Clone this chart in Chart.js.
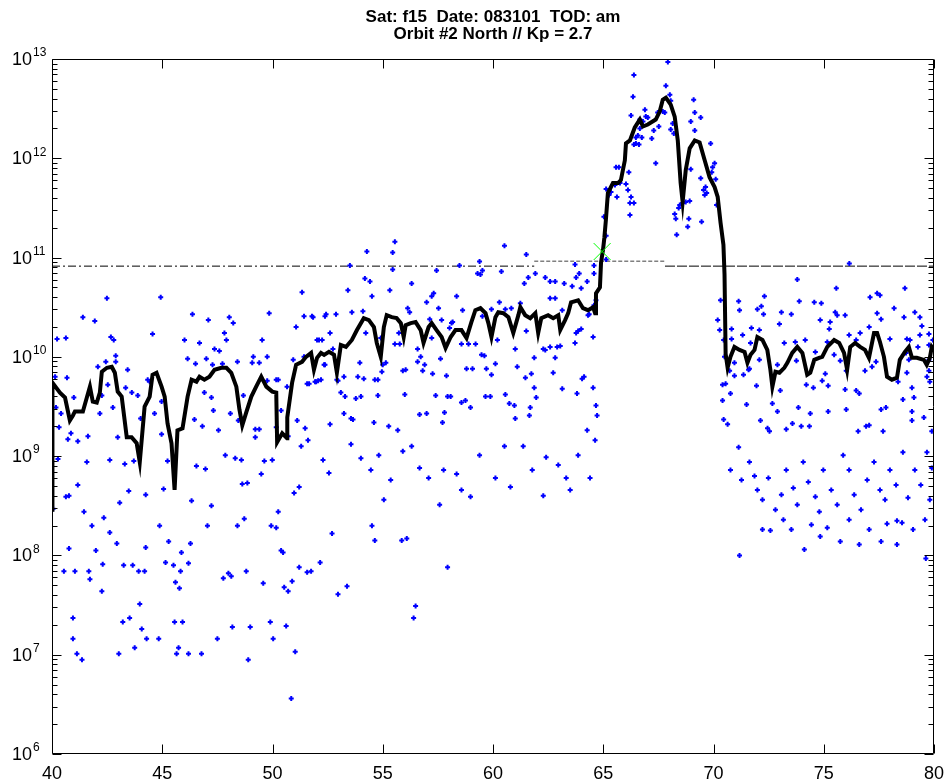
<!DOCTYPE html>
<html>
<head>
<meta charset="utf-8">
<script src="https://cdn.jsdelivr.net/npm/chart.js@4.4.0/dist/chart.umd.min.js"></script>
<style>
  html, body { margin: 0; padding: 0; background: #fff; }
  #wrap { width: 947px; height: 783px; }
</style>
</head>
<body>
<div id="wrap"><canvas id="myChart" width="947" height="783"></canvas></div>
<script>
// title and axes
const titleLines = ['Sat: f15  Date: 083101  TOD: am', 'Orbit #2 North // Kp = 2.7'];
const xTicks = [40, 45, 50, 55, 60, 65, 70, 75, 80];
const yDecades = [6, 7, 8, 9, 10, 11, 12, 13];

// smoothed flux (black line): latitude and log10(flux)
const lineLat = [40.00, 40.02, 40.36, 40.59, 40.81, 40.95, 41.04, 41.40, 41.58, 41.72, 41.85, 42.03, 42.17, 42.26, 42.49, 42.71, 42.85, 42.98, 43.16, 43.39, 43.61, 43.84, 43.98, 44.20, 44.43, 44.56, 44.74, 44.97, 45.11, 45.24, 45.42, 45.56, 45.69, 45.92, 46.15, 46.33, 46.55, 46.69, 46.91, 47.14, 47.37, 47.68, 47.91, 48.13, 48.36, 48.50, 48.63, 48.81, 49.04, 49.26, 49.49, 49.72, 49.99, 50.17, 50.21, 50.44, 50.66, 50.67, 50.89, 51.07, 51.34, 51.52, 51.75, 51.88, 52.02, 52.20, 52.34, 52.56, 52.79, 52.92,
  53.10, 53.33, 53.60, 53.83, 54.14, 54.37, 54.60, 54.73, 54.91, 55.05, 55.18, 55.41, 55.63, 55.82, 55.95, 56.04, 56.27, 56.49, 56.72, 56.85, 57.08, 57.22, 57.44, 57.67, 57.85, 58.08, 58.30, 58.57, 58.80, 59.02, 59.20, 59.43, 59.66, 59.79, 59.93, 60.11, 60.24, 60.47, 60.70, 60.92, 61.15, 61.24, 61.46, 61.69, 61.92, 62.05, 62.19, 62.50, 62.73, 62.96, 63.05, 63.27, 63.41, 63.54, 63.86, 64.08, 64.31, 64.54, 64.63, 64.67, 64.85, 64.90, 64.99, 65.05, 65.12,
  65.21, 65.44, 65.67, 65.80, 65.98, 66.03, 66.21, 66.43, 66.66, 66.80, 67.02, 67.38, 67.56, 67.70, 67.84, 68.06, 68.24, 68.38, 68.51, 68.60, 68.74, 68.92, 69.15, 69.37, 69.60, 69.82, 70.05, 70.19, 70.32, 70.45, 70.50, 70.55, 70.64,
  70.77, 70.95, 71.18, 71.41, 71.54, 71.68, 71.86, 71.99, 72.22, 72.44, 72.58, 72.67, 72.81, 72.99, 73.21, 73.35, 73.57, 73.80, 74.03, 74.25, 74.39, 74.57, 74.79, 74.93, 75.16, 75.47, 75.70, 75.92, 76.06, 76.20, 76.42, 76.65, 76.87, 77.05, 77.28, 77.42, 77.55, 77.73, 77.87, 78.09, 78.32, 78.45, 78.68, 78.86, 79.00, 79.22, 79.54, 79.67, 79.81, 79.90, 80.00];
const lineLog = [8.46, 9.74, 9.64, 9.59, 9.36, 9.41, 9.45, 9.45, 9.59, 9.70, 9.55, 9.54, 9.64, 9.85, 9.89, 9.90, 9.84, 9.65, 9.60, 9.19, 9.19, 9.13, 8.94, 9.50, 9.60, 9.82, 9.84, 9.70, 9.60, 9.33, 9.13, 8.66, 9.26, 9.28, 9.60, 9.77, 9.75, 9.80, 9.77, 9.80, 9.87, 9.89, 9.89, 9.84, 9.70, 9.47, 9.31, 9.44, 9.60, 9.70, 9.80, 9.70, 9.65, 9.64, 9.14, 9.23, 9.18, 9.39, 9.74, 9.92, 9.95, 10.00, 10.04, 9.87, 9.99, 10.04, 10.02, 10.05, 10.02, 9.84,
  10.12, 10.10, 10.17, 10.27, 10.39, 10.37, 10.30, 10.14, 10.00, 10.30, 10.42, 10.40, 10.39, 10.34, 10.20, 10.32, 10.34, 10.35, 10.27, 10.14, 10.30, 10.34, 10.27, 10.20, 10.09, 10.20, 10.27, 10.27, 10.19, 10.35, 10.47, 10.49, 10.44, 10.34, 10.20, 10.40, 10.45, 10.44, 10.40, 10.24, 10.42, 10.50, 10.42, 10.39, 10.44, 10.24, 10.39, 10.42, 10.39, 10.42, 10.27, 10.37, 10.44, 10.55, 10.57, 10.49, 10.47, 10.50, 10.44, 10.64, 10.70, 10.95, 11.08, 11.20, 11.38,
  11.65, 11.75, 11.75, 11.78, 11.98, 12.15, 12.18, 12.31, 12.39, 12.32, 12.34, 12.39, 12.47, 12.59, 12.61, 12.54, 12.42, 12.18, 11.75, 11.56, 11.88, 12.10, 12.18, 12.16, 11.98, 11.81, 11.71, 11.61, 11.35, 11.13, 10.83, 10.03, 9.89,
  10.00, 10.10, 10.07, 10.05, 9.94, 10.02, 10.07, 10.20, 10.17, 10.07, 9.87, 9.70, 9.85, 9.84, 9.89, 9.94, 10.04, 10.10, 10.04, 9.82, 9.84, 9.97, 9.99, 10.00, 10.10, 10.17, 10.14, 10.04, 9.87, 10.10, 10.14, 10.10, 10.07, 9.99, 10.24, 10.24, 10.15, 10.00, 9.80, 9.77, 9.79, 9.97, 10.05, 10.10, 9.99, 9.99, 9.97, 9.92, 9.99, 10.10, 10.07];

// individual samples (blue markers): [latitude, log10(flux)]
const dotsWest = [[40.23,10.18],[40.63,10.19],[41.40,10.40],[41.94,10.36],[42.49,10.59],[42.67,10.20],[42.80,10.17],[42.89,10.01],[44.56,10.23],[44.93,10.60],[46.01,10.17],[46.37,10.43],[46.69,10.14],[47.09,10.37],[47.37,10.08],[47.59,10.06],[47.82,10.24],[47.91,10.17],[48.04,10.40],[48.22,10.34],[49.85,10.44],[51.07,10.30],[51.34,10.65],[51.43,10.41],[51.79,10.41],[52.02,10.17],
  [40.14,9.80],[40.68,9.79],[40.18,9.49],[40.41,9.43],[40.32,9.29],[40.72,9.17],[40.86,9.23],[40.99,9.59],[41.17,9.15],[41.63,9.20],[41.17,8.71],[41.58,8.94],[40.27,8.97],[40.63,8.59],[40.77,8.60],[40.05,8.47],[41.45,8.44],[41.81,8.30],[42.08,9.90],[42.44,9.95],[42.89,9.95],[42.53,9.72],[42.26,9.61],[42.17,9.43],[42.76,9.49],[42.62,8.96],[42.98,9.19],[43.30,8.92],[43.43,9.87],[43.34,9.69],[43.62,9.64],[43.89,9.61],[43.48,8.65],[43.07,8.53],[42.35,8.38],[43.71,8.95],[44.02,9.38],[44.25,8.61],[44.34,9.77],[44.43,9.75],[44.65,9.43],[44.97,9.55],[44.97,9.22],[45.24,8.95],[45.06,8.67],[44.88,8.30],
  [46.15,9.98],[46.51,9.93],[47.00,9.98],[47.28,9.92],[47.73,9.93],[48.41,9.95],[49.08,9.94],[49.40,9.94],[49.13,10.00],[49.76,10.00],[49.53,10.17],[46.46,9.37],[46.82,9.30],[46.91,9.64],[47.23,9.59],[47.32,9.46],[47.55,9.26],[46.55,8.90],[46.96,8.87],[46.33,8.55],[47.23,8.50],[47.05,8.30],[47.86,9.01],[48.31,8.98],[48.59,8.96],[48.63,8.72],[48.86,8.73],[48.41,8.30],[48.72,8.37],[48.09,9.43],[48.45,9.36],[48.68,9.61],[49.22,9.27],[49.40,9.27],[49.22,9.19],[49.49,8.82],[49.63,8.95],[49.99,8.96],[49.76,9.76],[50.17,9.77],[50.26,9.77],[50.39,9.46],[50.66,9.70],[50.71,9.20],[50.17,9.29],[51.12,9.36],[51.48,9.28],[51.61,9.16],[51.30,9.10],[51.21,8.69],[50.98,8.63],[50.26,8.44],[49.94,8.30],[50.17,8.28],[50.94,9.97],[51.57,9.73],[51.98,9.75],[52.20,9.77],[52.34,9.92],[52.61,9.32],[52.29,8.96],[52.56,8.83],[52.25,10.17],[52.61,10.24],[52.74,10.08],[52.92,9.77]];

const dotsLow = [[42.62,8.23],[42.94,8.12],[41.99,8.05],[40.77,8.07],[42.30,7.91],[40.54,7.84],[41.04,7.84],[41.67,7.84],[41.72,7.76],[42.26,7.64],[43.25,7.90],[43.66,7.90],[43.93,7.84],[44.20,7.84],[44.25,8.08],[45.29,8.14],[45.15,7.93],[45.51,7.90],[45.87,8.03],[46.19,7.92],[46.28,8.12],[45.83,7.84],[45.60,7.73],[45.78,7.67],[50.39,8.05],[50.48,8.03],[48.81,7.84],[47.77,7.77],[48.00,7.82],[48.13,7.79],[49.58,7.72],[50.53,7.68],[50.71,7.64],[50.89,7.74],[51.21,7.88],[51.57,7.83],[51.75,7.84],[52.16,7.93],[52.70,8.22],[52.97,7.61],
  [43.98,7.51],[40.95,7.37],[43.21,7.33],[43.52,7.37],[44.07,7.26],[40.95,7.16],[44.29,7.16],[44.84,7.16],[45.56,7.33],[45.92,7.33],[41.13,7.01],[41.36,6.95],[43.03,7.01],[43.75,7.07],[45.65,7.01],[45.74,7.07],[46.19,7.01],[46.78,7.01],[47.50,7.16],[48.18,7.28],[48.99,7.28],[49.90,7.33],[50.03,7.16],[50.62,7.29],[51.03,7.03],[48.90,6.95],[50.85,6.56],[53.38,7.69],[54.51,8.30],[54.64,8.15],[55.86,8.15],[56.09,8.17],[56.40,7.37],[56.49,7.49],[57.94,7.88]];

const dotsMid = [[55.55,11.16],[54.28,11.06],[55.45,11.05],[60.52,11.12],[61.51,11.03],[59.39,10.96],[53.51,10.92],[55.45,10.88],[57.44,10.87],[58.48,10.92],[59.30,10.84],[59.43,10.83],[59.52,10.87],[60.38,10.86],[61.92,10.84],[61.60,10.80],[61.42,10.74],[62.37,10.80],[62.59,10.76],[62.82,10.76],[63.23,10.74],[63.72,10.93],[63.91,10.84],[63.77,10.80],[63.59,10.71],[64.00,10.69],[64.27,10.76],[64.58,10.92],[64.58,10.84],
  [53.42,10.67],[54.19,10.79],[54.42,10.76],[54.51,10.61],[55.32,10.67],[56.31,10.74],[56.99,10.55],[57.22,10.61],[57.31,10.64],[58.35,10.61],[57.53,10.49],[60.29,10.55],[61.24,10.54],[62.59,10.59],[62.82,10.59],[64.67,10.57],[51.84,10.40],[52.38,10.41],[52.43,10.43],[52.88,10.43],[53.60,10.45],[54.10,10.46],[56.13,10.49],[56.22,10.45],[57.13,10.38],[57.67,10.37],[58.12,10.34],[58.17,10.35],[58.03,10.29],[58.62,10.47],[59.52,10.41],[59.93,10.48],[60.56,10.48],[60.83,10.49],[63.14,10.47],[64.00,10.28],[63.86,10.26],[63.77,10.24],[64.36,10.43],
  [52.11,10.17],[54.23,10.24],[54.91,10.19],[55.55,10.13],[55.77,10.13],[55.73,10.24],[56.58,10.08],[56.72,10.00],[56.58,9.95],[56.90,9.92],[56.81,9.86],[55.91,9.86],[57.22,10.19],[57.26,9.83],[57.62,9.98],[57.89,9.81],[58.57,10.13],[58.89,10.13],[59.21,10.13],[59.48,10.02],[59.61,10.01],[58.80,9.88],[59.07,9.88],[59.70,9.88],[59.93,9.82],[60.11,9.93],[60.20,10.17],[61.01,10.08],[61.51,10.26],[61.87,9.99],[62.28,10.08],[62.37,10.07],[62.59,10.10],[62.82,9.99],[62.91,10.10],[63.05,10.11],[63.72,10.14],[64.13,9.80],[64.04,9.78],[64.54,10.20],
  [52.38,9.92],[51.43,10.00],[52.97,9.76],[53.24,9.80],[53.96,9.94],[53.87,9.80],[54.14,9.78],[54.78,9.77],[54.64,9.77],[55.14,9.94],[55.00,9.92],[54.96,9.85],[56.04,9.87],[61.10,9.90],[61.74,9.83],[61.47,9.79],[62.73,9.84],[61.87,9.69],[61.96,9.59],[63.14,9.68],[64.54,9.69],[63.81,9.63],[51.66,9.73],[51.93,9.75],[52.07,9.76],[53.10,9.64],[53.29,9.60],[53.78,9.58],[54.01,9.60],[54.78,9.61],[56.00,9.62],[57.40,9.61],[57.94,9.60],[58.08,9.60],[58.57,9.54],[58.75,9.56],[58.98,9.49],[59.66,9.60],[59.88,9.60],[60.56,9.62],[60.74,9.53],[60.97,9.51],[61.69,9.49],[61.65,9.41],[64.67,9.51],[64.72,9.41],
  [53.24,9.43],[53.56,9.38],[53.65,9.37],[54.60,9.34],[56.67,9.42],[56.99,9.43],[57.80,9.44],[57.71,9.34],[55.27,9.30],[55.68,9.26],[61.01,9.38],[64.27,9.26],
  [53.56,9.12],[54.01,8.98],[54.46,8.86],[54.82,9.01],[55.36,8.76],[55.91,9.05],[56.31,9.10],[56.67,8.88],[57.08,8.78],[57.76,8.86],[58.35,8.82],[58.57,8.66],[58.98,8.59],[59.39,9.01],[60.11,8.78],[60.52,9.10],[60.79,8.69],[61.37,9.10],[61.78,8.86],[62.28,8.60],[62.41,8.99],[62.96,8.91],[63.32,8.78],[63.50,8.66],[63.86,9.01],[64.40,8.78],[64.63,9.16],[55.05,8.56],[57.58,8.51]];

const dotsPeak = [[67.93,12.97],[66.39,12.84],[67.84,12.73],[66.35,12.62],[68.02,12.64],[68.06,12.58],[69.10,12.59],[66.89,12.49],[67.47,12.46],[67.70,12.47],[67.79,12.46],[69.15,12.46],[66.26,12.43],[66.93,12.42],[67.02,12.41],[66.66,12.39],[66.80,12.37],[69.42,12.41],[68.97,12.37],[68.15,12.35],[67.52,12.32],[67.29,12.28],[69.15,12.28],[66.66,12.30],[66.57,12.23],[66.48,12.21],[66.75,12.21],[67.20,12.20],[68.06,12.29],[68.20,12.25],[66.48,12.15],[66.62,12.14],[66.39,12.14],[69.87,12.15],
  [67.38,11.95],[65.58,11.91],[65.71,11.91],[66.16,11.86],[70.05,11.95],[69.96,11.91],[69.92,11.86],[68.97,11.89],[69.42,11.80],[70.10,11.79],[65.76,11.75],[66.03,11.74],[65.53,11.73],[65.13,11.69],[65.35,11.66],[65.26,11.63],[65.62,11.61],[66.12,11.68],[66.26,11.61],[69.55,11.68],[69.64,11.71],[69.69,11.65],[69.60,11.63],[66.21,11.55],[66.39,11.55],[70.14,11.53],[68.47,11.53],[68.60,11.55],[68.74,11.56],[68.92,11.57],[68.42,11.50],[68.24,11.44],[68.29,11.39],[68.88,11.39],[69.46,11.36],[66.21,11.43],[65.03,11.41],[68.83,11.31],[68.33,11.23],[65.13,11.22],[64.58,10.52],[64.31,10.42],[65.13,10.98]];

const dotsEast = [[76.16,10.94],[73.80,10.78],[75.57,10.69],[78.68,10.69],[70.32,10.57],[71.14,10.56],[71.18,10.47],[72.31,10.61],[73.89,10.56],[74.57,10.55],[74.89,10.54],[77.10,10.60],[77.42,10.64],[77.55,10.62],[78.19,10.49],[71.99,10.48],[72.17,10.51],[72.27,10.43],[73.08,10.45],[73.53,10.43],[75.52,10.45],[75.61,10.42],[75.97,10.42],[77.42,10.44],[77.60,10.38],[78.64,10.40],[79.13,10.45],[79.36,10.40],
  [70.19,10.37],[70.28,10.27],[70.82,10.28],[71.32,10.22],[71.72,10.29],[72.08,10.27],[72.99,10.33],[74.84,10.37],[75.29,10.35],[75.25,10.28],[77.06,10.30],[79.45,10.31],[70.46,10.17],[70.82,10.18],[71.68,10.14],[73.21,10.14],[73.71,10.15],[74.16,10.17],[75.16,10.15],[76.15,10.22],[76.47,10.17],[76.65,10.24],[78.00,10.18],[78.77,10.18],[78.91,10.17],[79.36,10.22],[79.77,10.23],[79.95,10.17],[79.77,10.12],[79.27,10.10],[74.62,10.05],[75.47,10.02],
  [70.50,10.00],[70.95,9.94],[72.08,9.97],[71.63,9.88],[72.90,9.92],[73.76,9.96],[75.75,9.96],[77.37,9.95],[77.19,9.90],[78.73,10.04],[78.86,9.97],[79.77,9.97],[79.77,9.86],[79.68,9.80],[70.95,9.81],[70.73,9.86],[71.36,9.82],[71.59,9.87],[75.07,9.83],[76.02,9.86],[76.87,9.86],[78.77,9.84],[74.21,9.72],[74.53,9.69],[74.93,9.76],[75.20,9.71],[75.97,9.67],[76.47,9.66],[76.61,9.63],[78.37,9.75],[79.00,9.69],[79.81,9.75],[70.41,9.72],[70.55,9.73],[70.77,9.63],[71.95,9.71],[73.03,9.66],
  [70.41,9.56],[71.50,9.52],[72.67,9.53],[72.90,9.45],[73.85,9.49],[74.39,9.43],[75.20,9.45],[76.02,9.47],[77.60,9.47],[77.82,9.49],[78.59,9.57],[79.09,9.59],[79.00,9.45],[79.00,9.36],[79.54,9.39],[79.90,9.25],[70.46,9.37],[70.64,9.32],[72.13,9.36],[72.45,9.28],[72.54,9.25],[73.30,9.27],[73.58,9.33],[73.98,9.30],[74.35,9.30],[76.56,9.25],[76.92,9.30],[77.06,9.31],[77.69,9.25],
  [71.14,9.09],[71.63,8.94],[71.86,8.80],[71.99,8.66],[72.22,8.56],[72.49,8.78],[72.81,8.46],[73.08,8.61],[73.30,8.86],[73.62,8.68],[73.80,8.51],[74.07,8.94],[74.30,8.74],[74.62,8.59],[74.80,8.44],[74.98,8.86],[75.34,8.66],[75.61,8.51],[75.88,9.01],[76.15,8.86],[76.38,8.61],[76.69,8.46],[76.97,8.76],[77.28,8.94],[77.55,8.66],[77.78,8.56],[78.00,8.86],[78.28,8.71],[78.59,9.04],[78.82,8.58],[79.13,8.86],[79.40,8.71],[79.68,9.04],[79.90,8.88],[79.81,8.56],[79.59,8.36],[79.05,8.26],[76.61,8.11],[76.15,8.36],[74.44,8.31],[73.17,8.36],[72.22,8.26],[70.77,8.86],[71.27,8.76],
  [71.18,8.00],[72.58,8.25],[73.53,8.26],[74.12,8.06],[74.84,8.19],[75.16,8.28],[75.75,8.14],[77.06,8.26],[77.60,8.14],[77.87,8.32],[78.32,8.35],[78.55,8.33],[78.32,8.11],[79.63,7.97]];

// threshold segments and boundary crossing
const threshWestLat = [40, 61.87];
const threshMidLat = [61.87, 67.8];
const threshEastLat = [67.8, 80];
const threshLow = 8.2e10;
const threshHigh = 9.2e10;
const crossing = { lat: 64.95, flux: 1.15e11 };

const toXY = (lat, lg) => ({ x: lat, y: Math.pow(10, lg) });
const linePts = lineLat.map((v, i) => toXY(v, lineLog[i]));
const dotPts = [].concat(dotsWest, dotsLow, dotsMid, dotsPeak, dotsEast).map(p => toXY(p[0], p[1]));
const seg = (lats, val) => lats.map(v => ({ x: v, y: val }));

const FONT = '"Liberation Sans", Arial, Helvetica, sans-serif';

// box, inward ticks on all sides, superscript decade labels
const frame = {
  id: 'frame',
  afterDraw(chart) {
    const { ctx, chartArea: a, scales: { x, y } } = chart;
    ctx.save();
    ctx.strokeStyle = '#000';
    ctx.lineWidth = 1;
    ctx.beginPath();
    const L = Math.round(a.left) + 0.5, R = Math.round(a.right) - 0.5;
    const T = Math.round(a.top) + 0.5, B = Math.round(a.bottom) - 0.5;
    ctx.rect(L, T, R - L, B - T);
    xTicks.forEach(v => {
      const px = Math.round(x.getPixelForValue(v)) + 0.5;
      ctx.moveTo(px, B); ctx.lineTo(px, B - 9);
      ctx.moveTo(px, T); ctx.lineTo(px, T + 9);
    });
    yDecades.forEach(d => {
      for (let m = 1; m < 10; m++) {
        if (d === 13 && m > 1) break;
        const py = Math.round(y.getPixelForValue(m * Math.pow(10, d))) + 0.5;
        const len = m === 1 ? 9 : 5;
        ctx.moveTo(L, py); ctx.lineTo(L + len, py);
        ctx.moveTo(R, py); ctx.lineTo(R - len, py);
      }
    });
    ctx.stroke();

    ctx.fillStyle = '#000';
    ctx.textBaseline = 'middle';
    yDecades.forEach(d => {
      const py = y.getPixelForValue(Math.pow(10, d));
      ctx.font = '18px ' + FONT;
      ctx.textAlign = 'right';
      ctx.fillText('10', a.left - 20, py + 1);
      ctx.font = '12px ' + FONT;
      ctx.textAlign = 'left';
      ctx.fillText(String(d), a.left - 19, py - 6);
    });
    ctx.restore();
  }
};

new Chart(document.getElementById('myChart'), {
  type: 'scatter',
  data: {
    datasets: [
      {
        data: [{ x: crossing.lat, y: crossing.flux }],
        pointStyle: 'crossRot', pointRadius: 12, borderColor: '#00ff00', borderWidth: 1,
        order: 0
      },
      {
        data: linePts, showLine: true, borderColor: '#000', borderWidth: 4,
        pointRadius: 0, tension: 0, order: 1
      },
      {
        data: dotPts, pointStyle: 'cross', pointRadius: 2.5, borderWidth: 2,
        borderColor: '#0000ff', backgroundColor: '#0000ff', order: 2
      },
      {
        data: seg(threshWestLat, threshLow), showLine: true, borderColor: '#000', borderWidth: 1,
        borderDash: [8, 3, 2, 3], pointRadius: 0, order: 3
      },
      {
        data: seg(threshMidLat, threshHigh), showLine: true, borderColor: '#808080', borderWidth: 1.5,
        borderDash: [4, 2], pointRadius: 0, order: 3
      },
      {
        data: seg(threshEastLat, threshLow), showLine: true, borderColor: '#000', borderWidth: 1,
        borderDash: [10, 2], pointRadius: 0, order: 3
      }
    ]
  },
  options: {
    responsive: false,
    animation: false,
    devicePixelRatio: 1,
    layout: { padding: { left: 0, right: 10, top: 0, bottom: 0 } },
    plugins: {
      legend: { display: false },
      tooltip: { enabled: false },
      title: {
        display: true,
        fullSize: false,
        text: titleLines,
        color: '#000',
        font: { family: FONT, size: 17, weight: 'bold', lineHeight: 1.0 },
        padding: { top: 9, bottom: 16 }
      }
    },
    scales: {
      x: {
        type: 'linear', min: 40, max: 80,
        grid: { display: false },
        border: { display: false },
        ticks: {
          stepSize: 5, autoSkip: false, maxRotation: 0, padding: 1,
          color: '#000', font: { family: FONT, size: 18 }
        },
        afterFit: s => { s.height = 29; }
      },
      y: {
        type: 'logarithmic', min: 1e6, max: 1e13,
        grid: { display: false },
        border: { display: false },
        ticks: { display: false },
        afterFit: s => { s.width = 52; }
      }
    }
  },
  plugins: [frame]
});
</script>
</body>
</html>
